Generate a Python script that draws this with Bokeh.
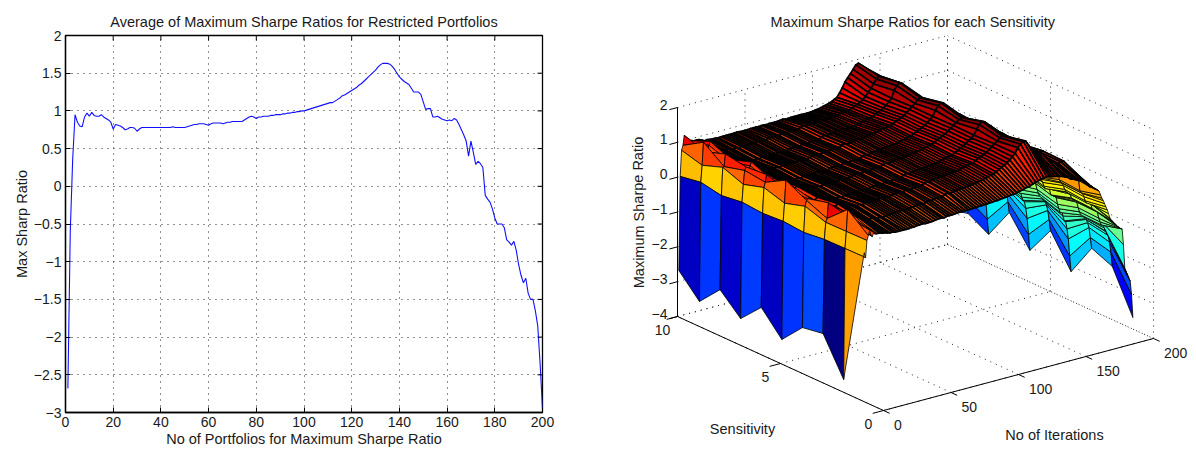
from bokeh.plotting import figure
from bokeh.layouts import row
from bokeh.models import Range1d, FixedTicker, Title
from bokeh.core.properties import value
from bokeh.embed import file_html
from bokeh.resources import INLINE

FONT = "Liberation Sans"
TXT = "#1a1a1a"

# ---- left chart: average of the maximum Sharpe ratios, portfolios 1..200
portfolios = list(range(1, 201))
avg_sharpe = [
 -2.68,-0.60,0.35,0.95,0.85,0.80,0.79,0.92,0.97,0.93,0.98,0.94,0.93,0.93,0.95,0.92,0.90,0.88,0.85,0.76,
 0.82,0.81,0.80,0.78,0.75,0.76,0.78,0.78,0.77,0.73,0.76,0.78,0.78,0.78,0.78,0.78,0.78,0.78,0.78,0.78,
 0.78,0.78,0.78,0.78,0.79,0.78,0.78,0.78,0.78,0.78,0.79,0.80,0.81,0.82,0.82,0.83,0.83,0.83,0.82,0.81,
 0.83,0.84,0.84,0.84,0.84,0.83,0.84,0.85,0.85,0.86,0.86,0.86,0.86,0.86,0.88,0.90,0.92,0.93,0.92,0.90,
 0.92,0.92,0.93,0.93,0.93,0.94,0.94,0.95,0.95,0.95,0.96,0.96,0.97,0.97,0.98,0.98,0.99,0.99,1.00,1.00,
 1.01,1.02,1.03,1.04,1.05,1.06,1.07,1.08,1.09,1.10,1.11,1.11,1.13,1.15,1.17,1.20,1.21,1.23,1.25,1.27,
 1.29,1.31,1.34,1.36,1.39,1.42,1.45,1.48,1.51,1.54,1.58,1.61,1.63,1.63,1.63,1.62,1.59,1.55,1.50,1.45,
 1.42,1.39,1.37,1.35,1.30,1.25,1.25,1.25,1.22,1.12,1.02,1.03,1.03,0.92,0.92,0.93,0.91,0.89,0.88,0.87,
 0.88,0.87,0.90,0.88,0.82,0.75,0.68,0.60,0.40,0.60,0.45,0.29,0.33,0.30,0.25,-0.12,-0.17,-0.21,-0.30,-0.42,
 -0.50,-0.50,-0.50,-0.55,-0.71,-0.74,-0.78,-0.73,-0.85,-1.04,-1.18,-1.28,-1.22,-1.42,-1.50,-1.50,-1.65,-1.85,-2.35,-2.95]
left_x_ticks = [0, 20, 40, 60, 80, 100, 120, 140, 160, 180, 200]
left_y_ticks = [-3, -2.5, -2, -1.5, -1, -0.5, 0, 0.5, 1, 1.5, 2]
left_y_labels = ["\u22123", "\u22122.5", "\u22122", "\u22121.5", "\u22121", "\u22120.5", "0", "0.5", "1", "1.5", "2"]

# ---- right chart: surface values (hundredths), one list per sensitivity
iterations = (list(range(1, 11)) + list(range(12, 171, 2)) + list(range(171, 201)))
sens_1 = [25,10,58,71,85,70,65,75,70,70,
 70,68,66,64,62,62,60,60,60,60, 60,60,61,61,62,62,63,62,62,62, 63,64,65,65,64,66,66,66,67,68, 68,68,68,68,68,69,69,70,70,71,
 71,72,72,73,73,74,75,76,77,78, 79,80,82,84,86,88,90,93,96,98, 100,102,104,102,100,98,96,94,92,88, 85,78,76,72,68,66,62,52,42,38,
 35,30,28,26,22,10,0,-8,-18,-28,-38,-50,-64,-70,-75,-80,-85,-90,-95,-98,-102,-104,-150,-219,-230,-240,-250,-260,-300,-367]
sens_2 = [-366,9,57,119,95,80,75,90,95,85,
 88,86,84,80,74,76,72,70,72,70, 72,73,73,73,73,74,75,74,74,74, 76,78,79,79,77,80,80,80,82,83, 83,83,87,90,87,89,90,91,92,92,
 93,94,95,96,97,99,101,103,105,108, 109,113,118,122,126,131,137,144,152,166, 174,180,178,165,152,146,142,130,130,118, 108,96,98,92,90,92,92,80,62,62,
 50,35,38,35,30,-5,-12,-15,-25,-38,-45,-45,-45,-50,-65,-68,-72,-68,-80,-98,-110,-120,-115,-130,-140,-145,-155,-175,-205,-247]
sens_3 = [-261,8,56,66,110,70,70,85,95,95,
 100,99,97,92,84,85,82,80,82,78, 81,81,81,81,81,81,82,81,81,81, 83,85,86,86,84,87,87,86,88,89, 89,89,93,96,93,95,96,97,98,98,
 99,100,101,102,103,105,107,109,111,113, 114,118,123,126,130,134,140,146,152,158, 165,168,167,160,150,144,140,130,130,118, 108,96,98,94,92,92,94,80,66,65,
 55,40,40,36,32,0,-8,-12,-20,-32,-40,-42,-44,-50,-62,-66,-72,-66,-78,-95,-108,-118,-110,-125,-132,-135,-145,-160,-190,-222]
sens_4 = [-271,1,75,91,95,75,70,80,85,85,
 92,91,90,86,78,79,76,74,76,73, 76,76,77,77,77,77,78,77,77,77, 79,81,82,82,80,83,83,82,84,85, 85,85,89,92,89,91,92,93,94,94,
 95,96,97,98,99,101,103,105,107,109, 110,114,119,123,127,132,138,144,150,165, 176,183,180,165,148,142,138,127,127,114, 104,92,94,88,86,85,86,72,56,56,
 45,25,30,28,22,-18,-22,-28,-38,-50,-58,-56,-58,-62,-80,-82,-86,-80,-92,-112,-126,-138,-130,-150,-165,-168,-190,-220,-270,-316]
sens_5 = [-332,6,57,122,90,85,85,95,100,90,
 97,96,95,90,82,83,81,79,80,77, 80,80,80,80,80,80,81,80,80,80, 82,84,85,85,83,86,86,85,87,88, 88,88,92,95,92,94,95,96,97,97,
 98,99,100,101,102,104,106,108,110,112, 113,117,122,125,129,133,139,145,151,157, 164,167,165,158,148,142,138,128,128,116, 106,95,96,92,90,90,92,78,64,64,
 55,38,42,35,30,-4,-10,-14,-22,-34,-42,-44,-42,-48,-62,-65,-70,-65,-78,-96,-108,-118,-112,-128,-135,-138,-148,-165,-192,-225]
sens_6 = [-267,2,75,89,110,70,70,85,90,95,
 93,92,91,87,79,80,77,75,77,74, 77,77,77,77,77,78,78,77,77,77, 79,81,82,82,80,83,83,82,84,85, 85,85,89,92,89,91,92,93,94,94,
 95,96,97,98,99,101,103,105,107,109, 110,114,119,122,126,131,136,143,150,165, 176,183,180,165,147,141,137,126,126,113, 103,91,92,88,86,86,87,73,58,58,
 48,26,30,26,20,-16,-24,-28,-36,-48,-56,-54,-56,-60,-78,-80,-84,-78,-90,-110,-124,-136,-128,-150,-160,-165,-185,-215,-262,-309]
sens_7 = [-326,7,57,96,105,90,85,105,115,105,
 98,97,96,91,83,84,81,80,81,78, 81,81,81,81,81,81,82,81,81,81, 83,85,86,86,84,87,87,86,88,89, 89,89,93,96,93,95,96,97,98,98,
 99,100,101,102,103,105,107,109,110,112, 113,116,121,124,128,132,138,145,151,158, 166,170,168,160,150,144,140,129,129,116, 106,94,96,92,90,90,91,78,62,62,
 55,36,40,36,32,-5,-10,-14,-24,-36,-44,-44,-44,-50,-64,-66,-72,-66,-78,-96,-108,-120,-112,-130,-138,-140,-150,-168,-195,-227]
sens_8 = [-270,-1,79,80,115,75,75,90,95,90,
 94,93,92,88,80,81,78,76,78,75, 78,78,78,78,78,78,79,78,78,78, 80,82,83,83,81,84,84,83,85,86, 86,86,90,93,90,92,93,93,94,94,
 95,95,96,96,97,99,100,102,104,106, 107,110,115,118,122,126,132,140,148,168, 180,187,182,168,148,140,136,125,124,110, 100,88,88,84,82,82,84,70,54,54,
 42,24,28,26,20,-18,-24,-28,-36,-50,-58,-58,-58,-62,-80,-84,-86,-80,-94,-112,-128,-138,-132,-152,-165,-168,-192,-222,-272,-317]
sens_9 = [-331,10,58,123,95,110,95,110,120,110,
 98,96,95,90,84,85,82,80,82,80, 82,82,82,82,82,82,83,82,82,82, 84,85,86,86,84,87,87,86,88,88, 88,88,91,94,90,92,93,93,94,93,
 94,94,95,95,96,97,98,100,102,103, 104,107,111,114,118,123,130,140,150,160, 172,178,175,165,152,144,138,126,125,112, 102,90,92,88,86,86,88,75,58,58,
 50,32,36,32,28,-8,-14,-18,-28,-40,-48,-48,-50,-54,-70,-74,-78,-72,-85,-104,-116,-128,-120,-140,-148,-150,-168,-190,-238,-284]
sens_10 = [-269,0,74,87,115,80,80,90,95,95,
 92,92,91,88,84,85,84,83,83,82, 83,83,83,83,83,83,84,83,83,83, 83,84,84,84,83,84,84,83,84,84, 84,84,85,86,84,84,85,85,85,85,
 85,85,85,85,86,87,88,90,92,94, 96,99,103,107,118,130,145,155,165,175, 186,189,180,168,155,145,138,126,125,112, 102,90,92,88,86,86,88,75,60,60,
 48,28,34,30,24,-12,-18,-22,-30,-44,-52,-50,-52,-56,-72,-76,-80,-74,-86,-106,-120,-130,-124,-144,-152,-155,-172,-196,-250,-300]
surface = [sens_1, sens_2, sens_3, sens_4, sens_5, sens_6, sens_7, sens_8, sens_9, sens_10]
sensitivities = list(range(1, 11))
x3_ticks = [0, 50, 100, 150, 200]
y3_ticks = [0, 5, 10]
z3_ticks = [-4, -3, -2, -1, 0, 1, 2]
z3_labels = ["\u22124", "\u22123", "\u22122", "\u22121", "0", "1", "2"]


def jet(t):
    t = max(0.0, min(1.0, t))
    r = min(max(min(4 * t - 1.5, -4 * t + 4.5), 0), 1)
    g = min(max(min(4 * t - 0.5, -4 * t + 3.5), 0), 1)
    b = min(max(min(4 * t + 0.5, -4 * t + 2.5), 0), 1)
    return "#%02x%02x%02x" % (int(r * 255), int(g * 255), int(b * 255))


W1, W2, H = 590, 600, 450
# ---------------- left chart
p1 = figure(width=W1, height=H, output_backend="svg", toolbar_location=None,
            x_range=Range1d(0, 200), y_range=Range1d(-3, 2),
            min_border_left=65, min_border_right=48, min_border_top=35, min_border_bottom=38,
            frame_align=False,
            x_axis_label="No of Portfolios for Maximum Sharpe Ratio", y_axis_label="Max Sharp Ratio")
p1.title.text = "Average of Maximum Sharpe Ratios for Restricted Portfolios"
p1.title.align = "center"
p1.title.text_font = FONT
p1.title.text_font_size = "14.5px"
p1.title.text_font_style = "normal"
p1.title.text_color = TXT
p1.title.standoff = 11
p1.xaxis.ticker = FixedTicker(ticks=left_x_ticks)
p1.yaxis.ticker = FixedTicker(ticks=left_y_ticks)
p1.yaxis.major_label_overrides = dict(zip(left_y_ticks, left_y_labels))
for ax in p1.axis:
    ax.major_tick_in = 5
    ax.major_tick_out = 0
    ax.minor_tick_line_color = None
    ax.axis_line_color = "black"
    ax.axis_line_width = 1.3
    ax.major_tick_line_color = "black"
    ax.major_label_text_font = FONT
    ax.major_label_text_font_size = "14px"
    ax.major_label_text_color = TXT
    ax.major_label_standoff = 4
    ax.axis_label_text_font = FONT
    ax.axis_label_text_font_size = "14.5px"
    ax.axis_label_text_font_style = "normal"
    ax.axis_label_text_color = TXT
    ax.axis_label_standoff = 1
p1.xgrid.ticker = FixedTicker(ticks=left_x_ticks)
p1.ygrid.ticker = FixedTicker(ticks=left_y_ticks)
p1.grid.grid_line_color = "#222222"
p1.grid.grid_line_dash = "1 5"
p1.grid.grid_line_width = 1
p1.outline_line_color = "black"
p1.outline_line_width = 1.3
p1.line(portfolios, avg_sharpe, line_color="#1010ff", line_width=1.1)
# inward ticks on the top and right edges
p1.segment(x0=left_x_ticks, y0=[2] * 11, x1=left_x_ticks, y1=[1.934] * 11, line_color="black")
p1.segment(x0=[200] * 11, y0=left_y_ticks, x1=[197.9] * 11, y1=left_y_ticks, line_color="black")

# ---------------- right chart: orthographic projection onto page pixels
ORIGIN = (883.0, 410.0)
PER_X = (270.0 / 200, -72.0 / 200)
PER_Y = (-206.0 / 10, -94.0 / 10)
PER_Z = -209.0 / 6
ZBASE = -4.0


def proj(x, y, z):
    return (ORIGIN[0] + PER_X[0] * x + PER_Y[0] * y,
            ORIGIN[1] + PER_X[1] * x + PER_Y[1] * y + PER_Z * (z - ZBASE))


p2 = figure(width=W2, height=H, output_backend="svg", toolbar_location=None,
            x_range=Range1d(W1, W1 + W2), y_range=Range1d(H, 35),
            x_axis_type=None, y_axis_type=None, frame_align=False,
            min_border_left=0, min_border_right=0, min_border_top=35, min_border_bottom=0)
p2.add_layout(Title(text="Maximum Sharpe Ratios for each Sensitivity", align="left", offset=180,
                    text_font=FONT, text_font_size="14.5px", text_font_style="normal",
                    text_color=TXT, standoff=11), "above")
p2.grid.visible = False
p2.outline_line_color = None

# dotted grid
gx, gy = [], []
def seg(a, b):
    pa, pb = proj(*a), proj(*b)
    gx.append([pa[0], pb[0]])
    gy.append([pa[1], pb[1]])
for t in x3_ticks:
    seg((t, 0, -4), (t, 10, -4))
    seg((t, 10, -4), (t, 10, 2))
for t in y3_ticks:
    seg((0, t, -4), (200, t, -4))
    seg((200, t, -4), (200, t, 2))
for t in z3_ticks:
    seg((0, 10, t), (200, 10, t))
    seg((200, 10, t), (200, 0, t))
p2.multi_line(gx, gy, line_color="#222222", line_width=1, line_dash="1 5")

# surface, far cells first
CMIN, CMAX = -3.67, 1.8
fx, fy, fc, fw = [], [], [], []
for j in range(len(iterations) - 2, -1, -1):
    for i in range(len(sensitivities) - 2, -1, -1):
        xa, xb = iterations[j], iterations[j + 1]
        ya, yb = sensitivities[i], sensitivities[i + 1]
        corners = [(xa, ya, surface[i][j]), (xb, ya, surface[i][j + 1]),
                   (xb, yb, surface[i + 1][j + 1]), (xa, yb, surface[i + 1][j])]
        pts = [proj(c[0], c[1], c[2] / 100) for c in corners]
        fx.append([q[0] for q in pts])
        fy.append([q[1] for q in pts])
        fc.append(jet((surface[i][j] / 100 - CMIN) / (CMAX - CMIN)))
        fw.append(1.7 if xb - xa > 1 else 0.8)
p2.patches(fx, fy, fill_color=fc, line_color="black", line_width=fw, line_join="round")

# axes lines and ticks
ax_x, ax_y = [], []
def aseg(a, b):
    ax_x.append([a[0], b[0]])
    ax_y.append([a[1], b[1]])
aseg(proj(0, 0, -4), proj(200, 0, -4))
aseg(proj(0, 0, -4), proj(0, 10, -4))
aseg(proj(0, 10, -4), proj(0, 10, 2))
for t in x3_ticks:
    aseg(proj(t, 0, -4), proj(t, -0.3, -4))
for t in y3_ticks:
    aseg(proj(0, t, -4), proj(-8, t, -4))
for t in z3_ticks:
    aseg(proj(0, 10, t), proj(-6, 10, t))
p2.multi_line(ax_x, ax_y, line_color="black", line_width=1)

def label(xs, ys, texts, size="14px", align="center", baseline="middle", angle=0.0):
    p2.text(xs, ys, text=texts, text_font=value(FONT), text_font_size=value(size),
            text_color=TXT, text_align=align, text_baseline=baseline, angle=angle)

label([proj(t, 0, -4)[0] + 10.5 for t in x3_ticks], [proj(t, 0, -4)[1] + 14.5 for t in x3_ticks],
      [str(t) for t in x3_ticks], align="left")
label([proj(0, t, -4)[0] - 15 for t in y3_ticks], [proj(0, t, -4)[1] + 13 for t in y3_ticks],
      [str(t) for t in y3_ticks])
label([proj(0, 10, t)[0] - 10 for t in z3_ticks], [proj(0, 10, t)[1] - 3 for t in z3_ticks],
      z3_labels, align="right")
label([638], [212], ["Maximum Sharpe Ratio"], size="14.5px", angle=1.5708)
label([742], [428], ["Sensitivity"], size="14.5px")
label([1054], [434], ["No of Iterations"], size="14.5px")

assert all(len(r) == len(iterations) for r in surface)
open("out.html", "w").write(file_html(row(p1, p2), INLINE))
